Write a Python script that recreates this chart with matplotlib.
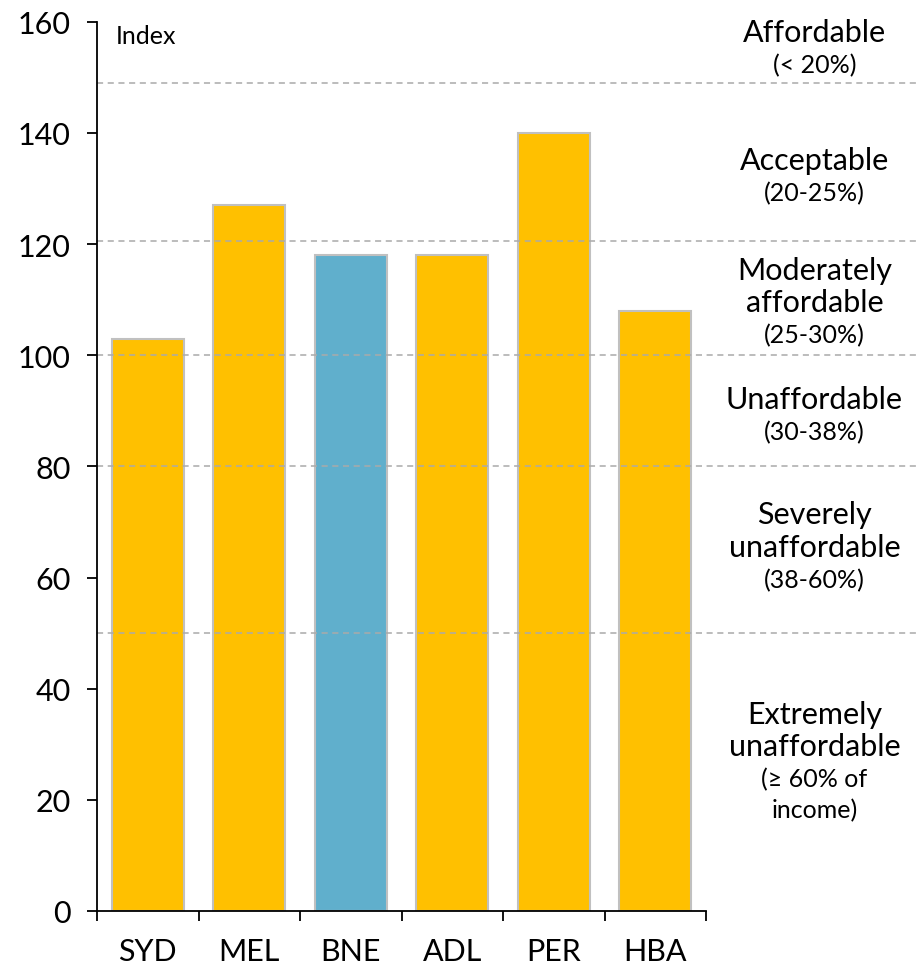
import numpy as np
import matplotlib
matplotlib.use("Agg")
import matplotlib.pyplot as plt

plt.rcParams["font.family"] = ["Lato", "DejaVu Sans"]

# Data
cities = ["SYD", "MEL", "BNE", "ADL", "PER", "HBA"]
index_values = [103, 127, 118, 118, 140, 108]
bar_colors = ["#FFC000", "#FFC000", "#60AFCC", "#FFC000", "#FFC000", "#FFC000"]

# Affordability band boundaries (index) and band labels
band_limits = [149, 120.5, 100, 80, 50]
band_titles = [
    "Affordable",
    "Acceptable",
    "Moderately\naffordable",
    "Unaffordable",
    "Severely\nunaffordable",
    "Extremely\nunaffordable",
]
band_ranges = [
    "(< 20%)",
    "(20-25%)",
    "(25-30%)",
    "(30-38%)",
    "(38-60%)",
    "(≥ 60% of\nincome)",
]
label_y = [155.0, 132.0, 106.4, 89.0, 62.4, 26.5]

fig = plt.figure(figsize=(9.18, 9.70), dpi=100)
ax = fig.add_axes([0.1057, 0.0598, 0.6634, 0.9168])

x = np.arange(len(cities))
ax.bar(x, index_values, width=0.71, color=bar_colors,
       edgecolor="#C0C0C0", linewidth=1.5, zorder=2)

# dashed band boundaries run past the axes to the figure edge
for lim in band_limits:
    ax.axhline(lim, xmin=0, xmax=1.35, color="#AAAAAA", linewidth=1.1,
               dashes=(4, 3), clip_on=False, zorder=3)

for title, rng, yy in zip(band_titles, band_ranges, label_y):
    ax.text(1.178, yy + 0.6, title, transform=ax.get_yaxis_transform(),
            ha="center", va="bottom", fontsize=22, linespacing=1.2)
    ax.text(1.178, yy - 0.6, rng, transform=ax.get_yaxis_transform(),
            ha="center", va="top", fontsize=18, linespacing=1.4)

ax.text(0.03, 159.5, "Index", transform=ax.get_yaxis_transform(),
        ha="left", va="top", fontsize=18)

ax.set_xlim(-0.5, len(cities) - 0.5)
ax.set_ylim(0, 160)
ax.set_yticks(np.arange(0, 161, 20))
ax.set_xticks(x)
ax.set_xticklabels(cities)
ax.set_xticks(np.arange(-0.5, len(cities), 1), minor=True)

ax.tick_params(axis="y", direction="out", length=7, width=1.3,
               labelsize=22, pad=12)
ax.tick_params(axis="x", which="major", length=0, labelsize=22, pad=19)
ax.tick_params(axis="x", which="minor", direction="out", length=7, width=1.3)

for side in ["top", "right"]:
    ax.spines[side].set_visible(False)
for side in ["left", "bottom"]:
    ax.spines[side].set_linewidth(1.3)
    ax.spines[side].set_zorder(4)

fig.savefig("out.png", dpi=100)
